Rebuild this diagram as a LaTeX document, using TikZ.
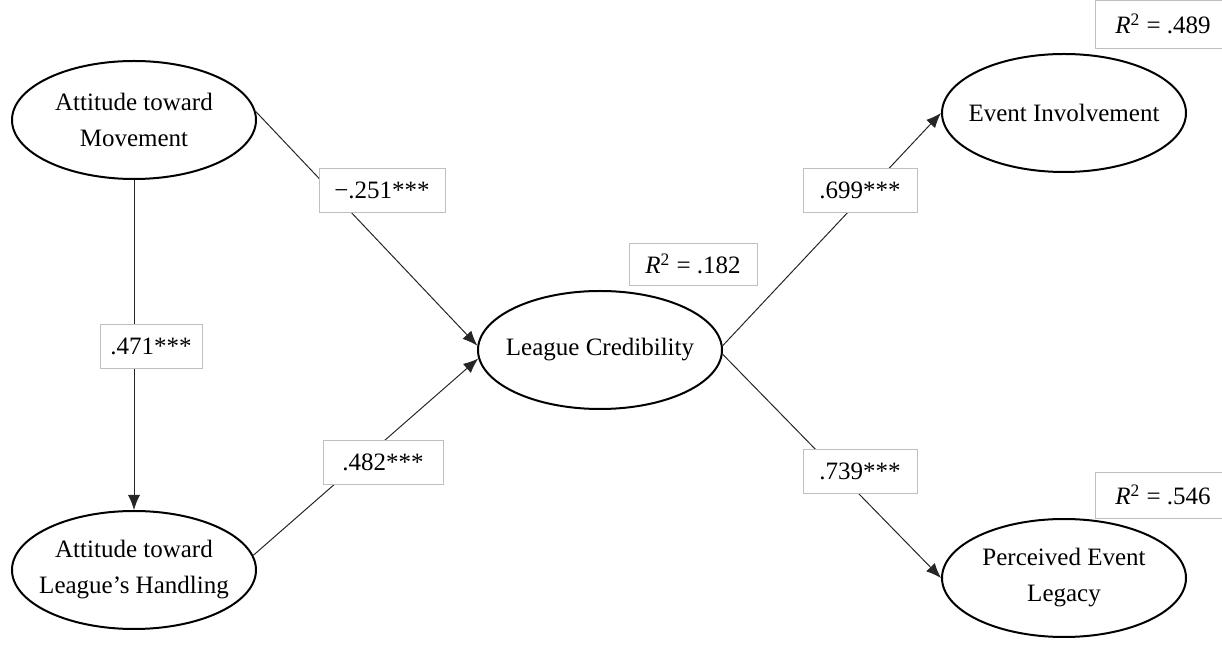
\documentclass[tikz,border=0pt]{standalone}
\usepackage{fontspec}
\setmainfont{Liberation Serif}
\usepackage{tikz}
\usetikzlibrary{positioning,shapes,arrows.meta}

\begin{document}
\begin{tikzpicture}[x=0.5pt,y=-0.5pt,
  font=\fontsize{12.5}{18}\selectfont,
  latent/.style={ellipse,draw,line width=1pt,minimum width=122pt,minimum height=59pt,inner xsep=-10pt,inner ysep=0pt,align=center},
  coef/.style={draw=black!25,fill=white,minimum height=22pt,inner sep=0pt},
  rsq/.style={draw=black!25,fill=white,minimum width=64pt,minimum height=21pt,inner sep=0pt},
  link/.style={draw=black!85,line width=0.5pt,-{Latex[length=7.5pt,width=6pt]}}]
\useasboundingbox (0,0) rectangle (1222,646);

% latent variables
\node[latent] (mov) at (134,120) {Attitude toward\\Movement};
\node[latent] (hdl) at (134,570) {Attitude toward\\League’s Handling};
\node[latent] (cred) at (600,350) {League Credibility};
\node[latent] (inv) at (1064,113) {Event Involvement};
\node[latent] (leg) at (1064,578) {Perceived Event\\Legacy};

% paths
\draw[link] (mov.south) -- (hdl.north);
\draw[link] (mov.4) -- (cred.178);
\draw[link] (hdl.7) -- (cred.184);
\draw[link] (cred.2) -- (inv.west);
\draw[link] (cred.-2) -- (leg.west);

% coefficients
\node[coef,minimum width=63pt] (mc) at (382,190) {−.251***};
\node[coef,minimum width=51pt] (mh) at (151,346) {.471***};
\node[coef,minimum width=60pt] (hc) at (383,462) {.482***};
\node[coef,minimum width=57pt] (ci) at (860,190) {.699***};
\node[coef,minimum width=57pt] (cl) at (860,471) {.739***};

% explained variance
\node[rsq] (rcred) at (693,264) {\textit{R}\textsuperscript{2} = .182};
\node[rsq,minimum width=68pt,minimum height=24pt] (rinv) at (1163,24) {\textit{R}\textsuperscript{2} = .489};
\node[rsq,minimum width=68pt,minimum height=23pt] (rleg) at (1163,495) {\textit{R}\textsuperscript{2} = .546};
\end{tikzpicture}
\end{document}
